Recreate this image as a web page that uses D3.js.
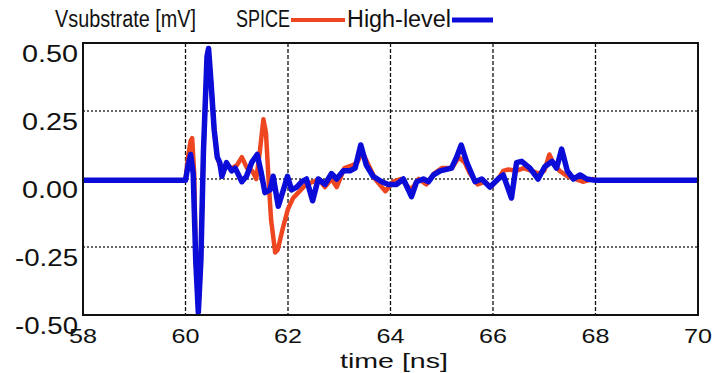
<!DOCTYPE html>
<html><head><meta charset="utf-8">
<script src="https://cdn.jsdelivr.net/npm/d3@7"></script>
<style>body{margin:0;background:#fff}svg{display:block}text{font-family:"Liberation Sans",Arial,sans-serif;fill:#111}</style>
</head><body><svg id="c" width="724" height="373"></svg>
<script>
const xTicks = [58, 60, 62, 64, 66, 68, 70];
const yTicks = [0.5, 0.25, 0, -0.25, -0.5];
const yTickLabels = ["0.50", "0.25", "0.00", "-0.25", "-0.50"];
const gridY = [0.25, 0, -0.25];
const gridX = [60, 62, 64, 66, 68];
const seriesNames = ["SPICE", "High-level"];

const spiceTime = [58, 60.0, 60.05, 60.1, 60.13, 60.17, 60.2, 60.25, 60.3, 60.35, 60.42, 60.45, 60.5, 60.56, 60.62, 60.67, 60.72, 60.8, 60.9, 61.0, 61.1, 61.2, 61.3, 61.38, 61.45, 61.52, 61.57, 61.62, 61.67, 61.75, 61.8, 61.9, 62.0, 62.1, 62.2, 62.35, 62.5, 62.6, 62.72, 62.85, 62.95, 63.1, 63.25, 63.35, 63.45, 63.55, 63.7, 63.9, 64.05, 64.2, 64.4, 64.55, 64.7, 64.85, 65.0, 65.2, 65.33, 65.45, 65.55, 65.7, 65.85, 65.95, 66.1, 66.2, 66.3, 66.45, 66.6, 66.75, 66.9, 67.0, 67.1, 67.2, 67.3, 67.45, 67.6, 67.75, 67.95, 68.0, 70];
const spiceV = [-0.005, -0.005, 0.08, 0.14, 0.15, 0.02, -0.3, -0.48, -0.3, 0.1, 0.44, 0.47, 0.35, 0.18, 0.08, 0.05, 0.02, 0.05, 0.04, 0.05, 0.08, 0.04, 0.03, 0.0, 0.1, 0.22, 0.17, 0.0, -0.15, -0.27, -0.26, -0.18, -0.11, -0.07, -0.05, -0.02, -0.01, 0.0, -0.03, 0.0, -0.03, 0.04, 0.05, 0.06, 0.1, 0.06, 0.0, -0.045, -0.01, 0.0, -0.04, 0.0, -0.02, 0.02, 0.04, 0.04, 0.08, 0.06, 0.02, -0.02, -0.01, -0.03, 0.0, 0.03, 0.035, 0.03, 0.04, 0.03, 0.02, 0.03, 0.09, 0.05, 0.03, 0.01, 0.0, -0.01, 0.0, -0.005, -0.005];

const hlTime = [58, 60.0, 60.05, 60.1, 60.15, 60.2, 60.25, 60.3, 60.35, 60.42, 60.45, 60.5, 60.56, 60.62, 60.67, 60.71, 60.8, 60.9, 60.97, 61.1, 61.19, 61.29, 61.4, 61.47, 61.55, 61.65, 61.71, 61.81, 61.91, 61.99, 62.07, 62.17, 62.27, 62.36, 62.48, 62.59, 62.72, 62.85, 62.95, 63.08, 63.21, 63.31, 63.42, 63.53, 63.66, 63.83, 63.96, 64.12, 64.25, 64.41, 64.51, 64.64, 64.74, 64.84, 64.97, 65.19, 65.29, 65.38, 65.49, 65.65, 65.78, 65.94, 66.1, 66.2, 66.36, 66.46, 66.56, 66.72, 66.88, 67.01, 67.15, 67.24, 67.34, 67.45, 67.57, 67.7, 67.83, 68.0, 70];
const hlV = [-0.005, -0.005, 0.05, 0.09, 0.02, -0.3, -0.49, -0.3, 0.1, 0.45, 0.48, 0.35, 0.18, 0.08, 0.06, 0.01, 0.06, 0.03, 0.04, -0.01, 0.01, 0.06, 0.09, 0.03, -0.05, -0.04, 0.01, -0.1, -0.04, 0.01, -0.04, -0.03, -0.01, 0.0, -0.08, 0.0, -0.02, 0.02, 0.0, 0.03, 0.03, 0.04, 0.125, 0.05, 0.01, -0.01, -0.02, -0.02, 0.0, -0.065, -0.01, 0.0, -0.01, 0.015, 0.03, 0.04, 0.08, 0.125, 0.06, -0.01, 0.0, -0.03, 0.0, 0.015, -0.07, 0.06, 0.065, 0.04, 0.0, 0.045, 0.065, 0.04, 0.11, 0.03, 0.0, 0.015, 0.0, -0.005, -0.005];

const svg = d3.select("#c");
const L = 83, R = 698, T = 43, B = 315;
const x = d3.scaleLinear().domain([58, 70]).range([L, R]);
const y = d3.scaleLinear().domain([-0.5, 0.5]).range([B, T]);

// grid
svg.append("g").selectAll("line").data(gridY).join("line")
  .attr("x1", L).attr("x2", R).attr("y1", d => y(d)).attr("y2", d => y(d))
  .attr("stroke", "#333").attr("stroke-width", 1.5).attr("stroke-dasharray", "2,2");
svg.append("g").selectAll("line").data(gridX).join("line")
  .attr("x1", d => x(d)).attr("x2", d => x(d)).attr("y1", T).attr("y2", B)
  .attr("stroke", "#111").attr("stroke-width", 1.3).attr("stroke-dasharray", "4,2");

// lines
const line = d3.line().x(d => x(d[0])).y(d => y(d[1])).curve(d3.curveLinear);
const spice = spiceTime.map((t, i) => [t, spiceV[i]]);
const hl = hlTime.map((t, i) => [t, hlV[i]]);
svg.append("path").datum(spice).attr("d", line).attr("fill", "none")
  .attr("stroke", "#ee4620").attr("stroke-width", 4.5).attr("stroke-linejoin", "round");
svg.append("path").datum(hl).attr("d", line).attr("fill", "none")
  .attr("stroke", "#0c0cd8").attr("stroke-width", 5.5).attr("stroke-linejoin", "round");

// frame
svg.append("rect").attr("x", L).attr("y", T).attr("width", R - L).attr("height", B - T)
  .attr("fill", "none").attr("stroke", "#111").attr("stroke-width", 2);

// y axis labels
svg.append("g").selectAll("text").data(yTicks).join("text")
  .attr("x", 78).attr("y", d => y(d) + 19)
  .attr("text-anchor", "end").attr("font-size", 24)
  .attr("textLength", (d, i) => yTickLabels[i].length === 4 ? 56 : 63).attr("lengthAdjust", "spacingAndGlyphs")
  .text((d, i) => yTickLabels[i]);

// x axis labels
svg.append("g").selectAll("text").data(xTicks).join("text")
  .attr("x", d => x(d)).attr("y", 343)
  .attr("text-anchor", "middle").attr("font-size", 21)
  .attr("textLength", 28).attr("lengthAdjust", "spacingAndGlyphs")
  .text(d => d);

svg.append("text").attr("x", 394).attr("y", 368).attr("text-anchor", "middle")
  .attr("font-size", 21).attr("textLength", 108).attr("lengthAdjust", "spacingAndGlyphs").text("time [ns]");

// header / legend
svg.append("text").attr("x", 55).attr("y", 27).attr("font-size", 23)
  .attr("textLength", 141).attr("lengthAdjust", "spacingAndGlyphs").text("Vsubstrate [mV]");
svg.append("text").attr("x", 236).attr("y", 27).attr("font-size", 23)
  .attr("textLength", 54).attr("lengthAdjust", "spacingAndGlyphs").text(seriesNames[0]);
svg.append("line").attr("x1", 291).attr("x2", 345).attr("y1", 20).attr("y2", 20)
  .attr("stroke", "#ee4620").attr("stroke-width", 4);
svg.append("text").attr("x", 347).attr("y", 27).attr("font-size", 23)
  .attr("textLength", 104).attr("lengthAdjust", "spacingAndGlyphs").text(seriesNames[1]);
svg.append("line").attr("x1", 452).attr("x2", 493).attr("y1", 20).attr("y2", 20)
  .attr("stroke", "#0c0cd8").attr("stroke-width", 5);
</script></body></html>
